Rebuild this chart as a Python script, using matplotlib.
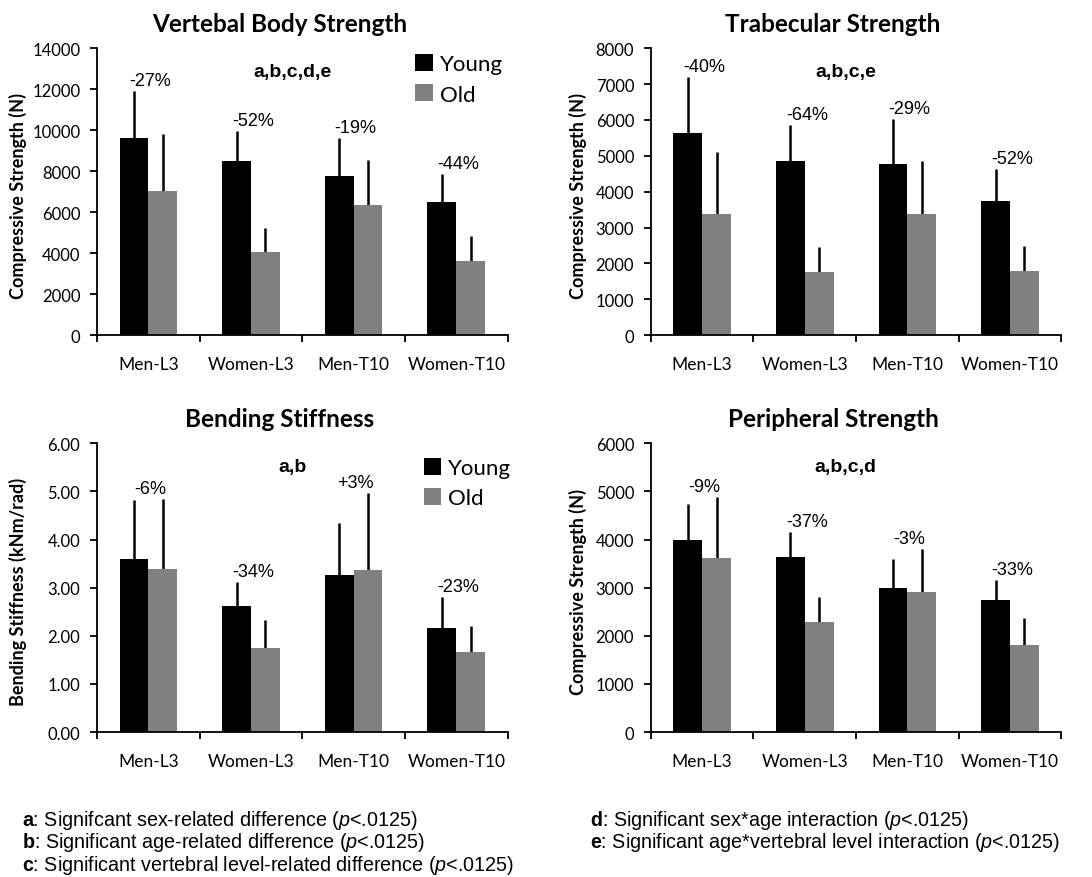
import numpy as np
import matplotlib
matplotlib.use("Agg")
import matplotlib.pyplot as plt
from matplotlib.ticker import FixedLocator, FormatStrFormatter

plt.rcParams['mathtext.fontset'] = 'custom'
plt.rcParams['mathtext.rm'] = 'Liberation Sans'
plt.rcParams['mathtext.it'] = 'Liberation Sans:italic'
plt.rcParams['mathtext.bf'] = 'Liberation Sans:bold'

# ---- data ----
categories = ["Men-L3", "Women-L3", "Men-T10", "Women-T10"]
series_names = ["Young", "Old"]

vb_young = [9640, 8510, 7780, 6500]
vb_young_sd = [2260, 1450, 1860, 1360]
vb_old = [7050, 4070, 6330, 3630]
vb_old_sd = [2750, 1180, 2230, 1200]
vb_pct = ["-27%", "-52%", "-19%", "-44%"]

tb_young = [5640, 4850, 4760, 3740]
tb_young_sd = [1560, 1010, 1280, 900]
tb_old = [3380, 1770, 3380, 1790]
tb_old_sd = [1720, 690, 1480, 690]
tb_pct = ["-40%", "-64%", "-29%", "-52%"]

bs_young = [3.59, 2.63, 3.26, 2.16]
bs_young_sd = [1.23, 0.49, 1.09, 0.64]
bs_old = [3.39, 1.74, 3.37, 1.66]
bs_old_sd = [1.46, 0.58, 1.59, 0.55]
bs_pct = ["-6%", "-34%", "+3%", "-23%"]

ps_young = [3990, 3640, 2990, 2750]
ps_young_sd = [740, 520, 610, 420]
ps_old = [3620, 2290, 2920, 1820]
ps_old_sd = [1270, 520, 880, 560]
ps_pct = ["-9%", "-37%", "-3%", "-33%"]

footnotes_left = [
    r"$\mathbf{a}$: Signifcant sex-related difference ($\mathit{p}$<.0125)",
    r"$\mathbf{b}$: Significant age-related difference ($\mathit{p}$<.0125)",
    r"$\mathbf{c}$: Significant vertebral level-related difference ($\mathit{p}$<.0125)",
]
footnotes_right = [
    r"$\mathbf{d}$: Significant sex*age interaction ($\mathit{p}$<.0125)",
    r"$\mathbf{e}$: Significant age*vertebral level interaction ($\mathit{p}$<.0125)",
]

YOUNG_C = "#000000"
OLD_C = "#808080"
LABEL_FONT = "Lato"
ARIAL = "Liberation Sans"
W = 0.28


def draw_panel(ax, title, ylabel, young, young_sd, old, old_sd, pct, sig,
               ymax, ystep, fmt=None, legend=False, legend_anchor=(1.02, 1.03),
               ylabel_x=-0.17):
    x = np.arange(len(categories))
    ax.bar(x - W / 2, young, W, color=YOUNG_C, label=series_names[0], zorder=2)
    ax.bar(x + W / 2, old, W, color=OLD_C, label=series_names[1], zorder=2)
    zeros = np.zeros(len(categories))
    ax.errorbar(x - W / 2, young, yerr=[zeros, young_sd], fmt="none",
                ecolor="black", elinewidth=1.8, capsize=0, zorder=1)
    ax.errorbar(x + W / 2, old, yerr=[zeros, old_sd], fmt="none",
                ecolor="black", elinewidth=1.8, capsize=0, zorder=1)

    # percent change, just above the taller error bar of each group
    tops = np.maximum(np.add(young, young_sd), np.add(old, old_sd))
    for xi, t, s in zip(x, tops, pct):
        ax.text(xi + 0.02, t + 0.036 * ymax, s, ha="center", va="center",
                fontsize=13, family=ARIAL)

    ax.text(0.475, 0.92, sig, transform=ax.transAxes, ha="center", va="center",
            fontsize=14, fontweight="bold", family=ARIAL)
    ax.text(0.444, 1.085, title, transform=ax.transAxes, ha="center",
            va="center", fontsize=17.5, fontweight="bold", family=LABEL_FONT)

    ax.set_xlim(-0.5, len(categories) - 0.5)
    ax.set_ylim(0, ymax)
    ax.set_yticks(np.arange(0, ymax + ystep / 2, ystep))
    if fmt:
        ax.yaxis.set_major_formatter(FormatStrFormatter(fmt))
    ax.set_xticks(x)
    ax.set_xticklabels(categories)
    ax.xaxis.set_minor_locator(FixedLocator(np.arange(-0.5, len(categories), 1.0)))
    ax.tick_params(axis="x", which="major", length=0, pad=15, labelsize=12.5)
    ax.tick_params(axis="x", which="minor", length=5, width=1.3, direction="out")
    ax.tick_params(axis="y", length=5, width=1.3, pad=7, labelsize=12)
    for lab in ax.get_xticklabels() + ax.get_yticklabels():
        lab.set_family(LABEL_FONT)
    ax.set_ylabel(ylabel, fontsize=13, fontweight="bold", family=LABEL_FONT)
    ax.yaxis.set_label_coords(ylabel_x, 0.49)

    for side in ("top", "right"):
        ax.spines[side].set_visible(False)
    for side in ("left", "bottom"):
        ax.spines[side].set_linewidth(1.3)

    if legend:
        ax.legend(loc="upper right", bbox_to_anchor=legend_anchor, frameon=False,
                  handlelength=0.8, handleheight=0.8, handletextpad=0.3,
                  labelspacing=0.45, borderaxespad=0,
                  prop={"family": LABEL_FONT, "size": 16})


fig = plt.figure(figsize=(10.92, 8.78), dpi=100)
ax1 = fig.add_axes([0.0888, 0.617, 0.376, 0.327])
ax2 = fig.add_axes([0.596, 0.617, 0.376, 0.327])
ax3 = fig.add_axes([0.0888, 0.165, 0.376, 0.329])
ax4 = fig.add_axes([0.596, 0.165, 0.376, 0.329])

draw_panel(ax1, "Vertebal Body Strength", "Compressive Strength (N)",
           vb_young, vb_young_sd, vb_old, vb_old_sd, vb_pct, "a,b,c,d,e",
           14000, 2000, legend=True, legend_anchor=(1.01, 1.01))
draw_panel(ax2, "Trabecular Strength", "Compressive Strength (N)",
           tb_young, tb_young_sd, tb_old, tb_old_sd, tb_pct, "a,b,c,e",
           8000, 1000, ylabel_x=-0.155)
draw_panel(ax3, "Bending Stiffness", "Bending Stiffness (kNm/rad)",
           bs_young, bs_young_sd, bs_old, bs_old_sd, bs_pct, "a,b",
           6, 1, fmt="%.2f", legend=True, legend_anchor=(1.03, 0.98))
draw_panel(ax4, "Peripheral Strength", "Compressive Strength (N)",
           ps_young, ps_young_sd, ps_old, ps_old_sd, ps_pct, "a,b,c,d",
           6000, 1000, ylabel_x=-0.155)

for i, line in enumerate(footnotes_left):
    fig.text(0.02, 0.066 - i * 0.026, line, fontsize=14.2, family=ARIAL,
             ha="left", va="center")
for i, line in enumerate(footnotes_right):
    fig.text(0.54, 0.066 - i * 0.026, line, fontsize=14.2, family=ARIAL,
             ha="left", va="center")

fig.savefig("out.png", dpi=100)
